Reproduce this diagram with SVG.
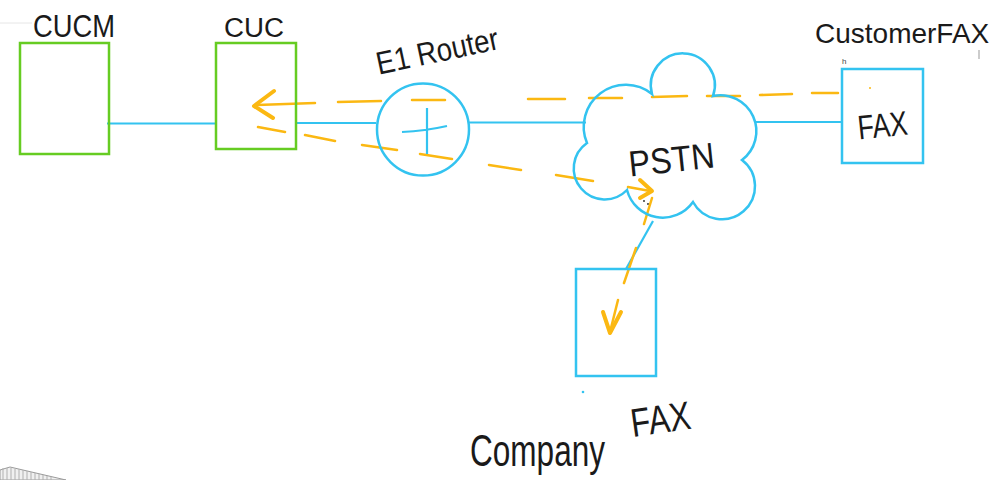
<svg xmlns="http://www.w3.org/2000/svg" width="999" height="480" viewBox="0 0 999 480">
<style>
.green{fill:none;stroke:#66cc22;stroke-width:2.5}
.blue{fill:none;stroke:#33c3f0;stroke-width:2.5}
.link{fill:none;stroke:#33c3f0;stroke-width:2.2}
.dash{fill:none;stroke:#fbb812;stroke-width:2.5;stroke-linecap:round}
.head{fill:none;stroke:#fbb812;stroke-width:4;stroke-linecap:round;stroke-linejoin:round}
.lbl{font-family:"Liberation Sans",Arial,sans-serif;fill:#1a1a1a;font-weight:normal}
</style>
<rect width="999" height="480" fill="#ffffff"/>
<!-- minor artifacts -->
<line x1="0" y1="23" x2="32" y2="23" stroke="#e6e6e6" stroke-width="1"/>
<polygon points="0,470 0,480 66,480 10,467" fill="#f0f0f0" stroke="#9a9a9a" stroke-width="1"/>
<g stroke="#b0b0b0" stroke-width="1">
<line x1="3" y1="468" x2="3" y2="480"/><line x1="7" y1="468" x2="7" y2="480"/><line x1="11" y1="468" x2="11" y2="480"/><line x1="15" y1="469" x2="15" y2="480"/><line x1="19" y1="469" x2="19" y2="480"/><line x1="23" y1="470" x2="23" y2="480"/><line x1="27" y1="471" x2="27" y2="480"/><line x1="31" y1="472" x2="31" y2="480"/><line x1="35" y1="473" x2="35" y2="480"/><line x1="39" y1="474" x2="39" y2="480"/><line x1="43" y1="475" x2="43" y2="480"/><line x1="47" y1="476" x2="47" y2="480"/><line x1="51" y1="477" x2="51" y2="480"/>
</g>
<line x1="979" y1="50" x2="979" y2="59" stroke="#999999" stroke-width="1"/>
<circle cx="583" cy="392" r="1.3" fill="#33c3f0"/>
<circle cx="870" cy="88" r="1" fill="#fbb812"/>
<circle cx="644" cy="201" r="0.9" fill="#222"/>
<circle cx="648" cy="204" r="0.9" fill="#222"/>
<text x="842" y="64" font-family="Liberation Sans, sans-serif" font-size="8" fill="#444">h</text>

<g id="connectors">
<line class="link" x1="107" y1="123.5" x2="216" y2="123.5"/>
<line class="link" x1="296" y1="123" x2="376" y2="123"/>
<line class="link" x1="469" y1="122.5" x2="586" y2="122.5"/>
<line class="link" x1="755" y1="122" x2="842" y2="122"/>
<line class="link" x1="653" y1="221" x2="626" y2="269"/>
<!-- fax flow: customer fax -> CUC -->
<path class="dash" d="M812,93 L838,93 M760,95 L792,94 M707,96 L740,96 M652,97 L687,96 M589,98 L622,98 M528,99 L565,99 M412,100 L445,100 M338,102 L381,101 M257,105 L315,103"/>
<path class="head" d="M274,91 L254,106 L273,118"/>
<!-- CUC -> PSTN -> company fax -->
<path class="dash" d="M258,127 L285,132 M305,135 L335,141 M362,145 L397,150 M420,154 L452,159 M489,165 L521,170 M556,175 L593,181 M628,187 L650,191"/>
<path class="head" d="M640,180 L652,191 L640,198"/>
<path class="dash" d="M652,198 L644,224 M636,248 L624,283 M618,300 L610,332"/>
<path class="head" d="M603,312 L610,333 L621,312"/>
</g>

<g id="cucm">
<rect class="green" x="20" y="43" width="89" height="111"/>
<text class="lbl" x="33" y="37" font-size="32" textLength="82" lengthAdjust="spacingAndGlyphs">CUCM</text>
</g>
<g id="cuc">
<rect class="green" x="216" y="43" width="80" height="106"/>
<text class="lbl" x="224" y="37" font-size="27" textLength="60" lengthAdjust="spacingAndGlyphs">CUC</text>
</g>
<g id="e1router">
<circle class="blue" cx="423" cy="129.5" r="46"/>
<path class="link" d="M427,108 L427,154 M402,132 Q425,131 447,126"/>
<text class="lbl" x="437" y="62" font-size="32" text-anchor="middle" textLength="124" lengthAdjust="spacingAndGlyphs" transform="rotate(-12 437 50)">E1 Router</text>
</g>
<g id="pstn">
<path class="blue" d="M587,143 A42,42 0 0 1 652,94 A32,32 0 1 1 713,96 A36,36 0 0 1 742,160 A33,33 0 1 1 693,202 A37,37 0 0 1 627,190 A31,31 0 1 1 587,143 Z"/>
<text class="lbl" x="671" y="172" font-size="36" text-anchor="middle" textLength="86" lengthAdjust="spacingAndGlyphs" transform="rotate(-6 671 155)">PSTN</text>
</g>
<g id="customerfax">
<rect class="blue" x="842" y="69" width="81" height="94"/>
<text class="lbl" x="882" y="137" font-size="34" text-anchor="middle" textLength="50" lengthAdjust="spacingAndGlyphs" transform="rotate(-6 882 120)">FAX</text>
<text class="lbl" x="815" y="43" font-size="28">CustomerFAX</text>
</g>
<g id="companyfax">
<rect class="blue" x="576" y="269" width="80" height="107"/>
<text class="lbl" x="470" y="466" font-size="44" textLength="135" lengthAdjust="spacingAndGlyphs">Company</text>
<text class="lbl" x="630" y="433" font-size="40" textLength="60" lengthAdjust="spacingAndGlyphs" transform="rotate(-8 660 415)">FAX</text>
</g>
</svg>
